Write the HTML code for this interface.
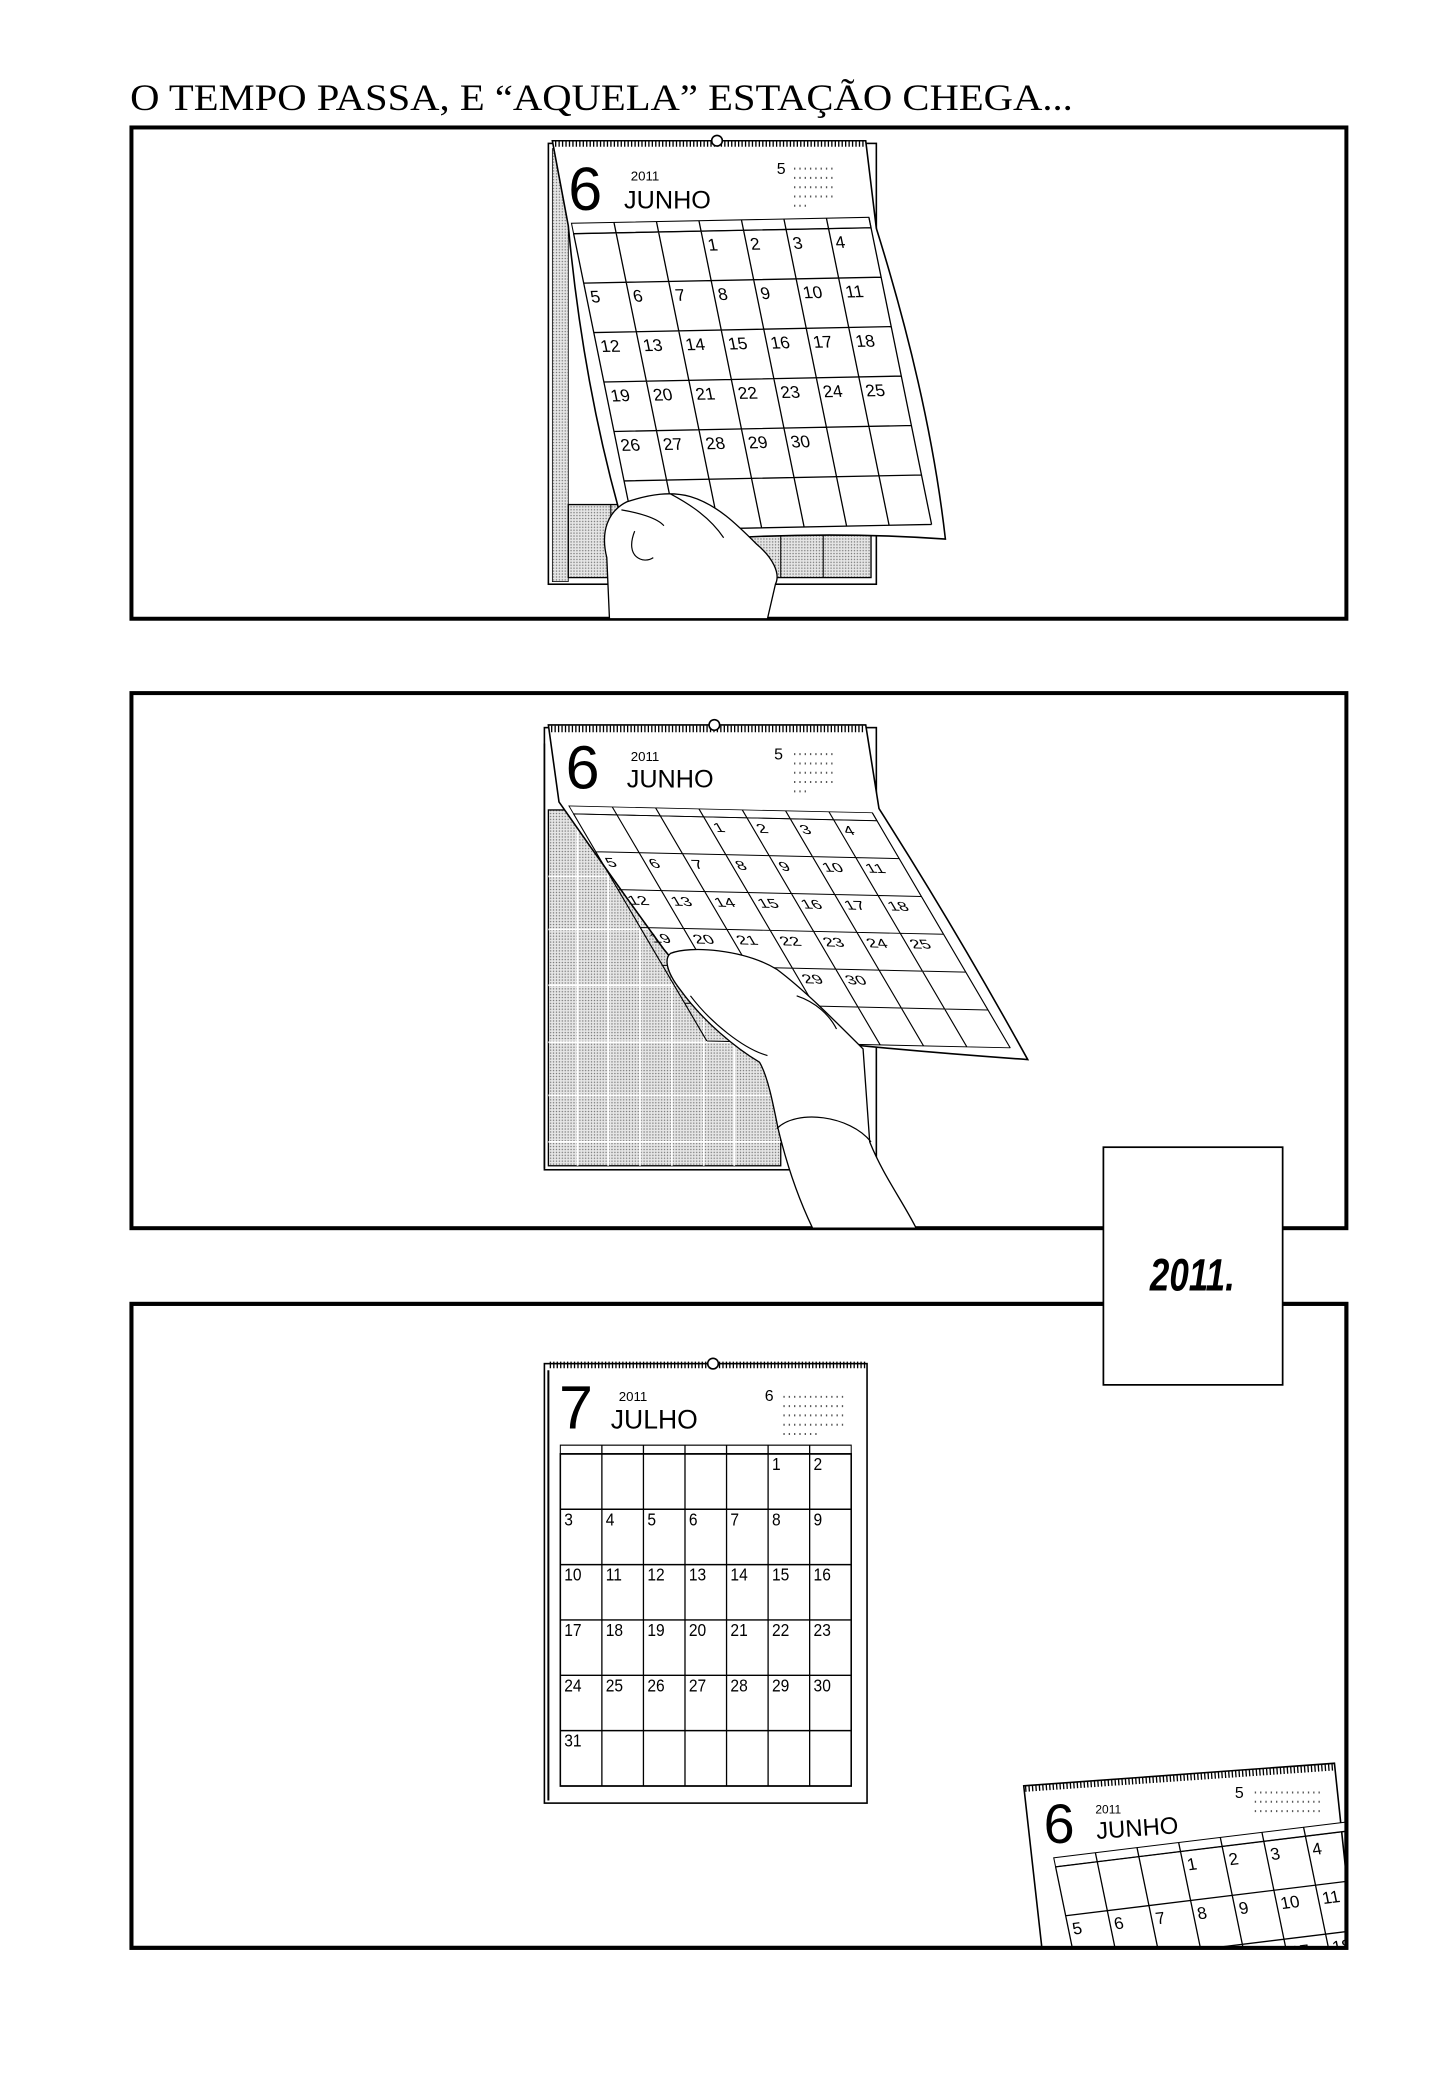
<!DOCTYPE html>
<html><head><meta charset="utf-8"><style>html,body{margin:0;padding:0;background:#fff}svg{display:block}</style></head>
<body>
<svg width="1438" height="2100" viewBox="0 0 1083 1581.6" preserveAspectRatio="none" xmlns="http://www.w3.org/2000/svg" font-family="Liberation Sans, sans-serif">
<defs>
<pattern id="dots" width="2.2" height="2.2" patternUnits="userSpaceOnUse"><rect width="2.2" height="2.2" fill="#e6e6e6"/><circle cx="1.1" cy="1.1" r="0.55" fill="#777"/></pattern>
<clipPath id="p3"><rect x="100" y="983" width="913" height="483"/></clipPath>
</defs>
<rect width="1083" height="1582" fill="#fff"/>
<text x="98" y="83" font-family="Liberation Serif, serif" font-size="28" textLength="710" lengthAdjust="spacingAndGlyphs">O TEMPO PASSA, E “AQUELA” ESTAÇÃO CHEGA...</text>

<!-- PANEL 1 -->
<rect x="99" y="96" width="915" height="370" fill="#fff" stroke="#000" stroke-width="3"/>
<!-- back calendar -->
<rect x="413" y="108" width="247" height="332" fill="#fff" stroke="#000" stroke-width="1.2"/>
<rect x="416" y="112" width="12" height="326" fill="url(#dots)" stroke="#000" stroke-width="0.6"/>
<rect x="428" y="380" width="228" height="55" fill="url(#dots)" stroke="#000" stroke-width="1"/>
<path d="M460,380V435 M490,380V435 M520,380V435 M555,380V435 M588,380V435 M620,380V435" stroke="#000" stroke-width="0.8"/>
<!-- front page -->
<path d="M416,106 L652,106 L660,172 Q700,300 712,406 Q600,398 474,411 Q440,300 428,170 Z" fill="#fff" stroke="#000" stroke-width="1.2"/>
<line x1="418" y1="108" x2="651" y2="108" stroke="#000" stroke-width="5" stroke-dasharray="1 1.6"/>
<circle cx="540" cy="106" r="4" fill="#fff" stroke="#000" stroke-width="1.2"/>
<text x="428" y="158" font-size="46">6</text>
<text x="475" y="136" font-size="10">2011</text>
<text x="470" y="157" font-size="19">JUNHO</text>
<text x="585" y="131" font-size="12">5</text>
<path d="M598,127h30M598,134h30M598,141h30M598,148h30M598,155h10" stroke="#555" stroke-width="1.5" stroke-dasharray="1 3"/>
<g transform="matrix(1,-0.02,0.2,0.98,432,176)">
<rect x="0" y="-8" width="224" height="8" fill="#fff" stroke="#000" stroke-width="0.8"/>
<path d="M0,0V228M32,-8V228M64,-8V228M96,-8V228M128,-8V228M160,-8V228M192,-8V228M224,-8V228M0,0H224M0,38H224M0,76H224M0,114H224M0,152H224M0,190H224M0,228H224" stroke="#000" stroke-width="1" fill="none"/>
<g font-size="13"><text x="99" y="15">1</text><text x="131" y="15">2</text><text x="163" y="15">3</text><text x="195" y="15">4</text>
<text x="3" y="53">5</text><text x="35" y="53">6</text><text x="67" y="53">7</text><text x="99" y="53">8</text><text x="131" y="53">9</text><text x="163" y="53">10</text><text x="195" y="53">11</text>
<text x="3" y="91">12</text><text x="35" y="91">13</text><text x="67" y="91">14</text><text x="99" y="91">15</text><text x="131" y="91">16</text><text x="163" y="91">17</text><text x="195" y="91">18</text>
<text x="3" y="129">19</text><text x="35" y="129">20</text><text x="67" y="129">21</text><text x="99" y="129">22</text><text x="131" y="129">23</text><text x="163" y="129">24</text><text x="195" y="129">25</text>
<text x="3" y="167">26</text><text x="35" y="167">27</text><text x="67" y="167">28</text><text x="99" y="167">29</text><text x="131" y="167">30</text></g>
</g>
<!-- hand 1 -->
<path d="M459,466 L457,420 C452,400 458,385 472,378 C490,372 505,370 520,374 C540,380 555,395 570,410 C582,420 588,432 584,440 L578,466 Z" fill="#fff" stroke="#000" stroke-width="1"/>
<path d="M468,384 C480,386 495,390 500,396 M478,400 C470,420 485,425 492,420 M505,372 C520,380 535,390 545,405" fill="none" stroke="#000" stroke-width="0.9"/>

<!-- PANEL 2 -->
<rect x="99" y="522" width="915" height="403" fill="#fff" stroke="#000" stroke-width="3"/>
<rect x="410" y="548" width="250" height="333" fill="#fff" stroke="#000" stroke-width="1.2"/>
<rect x="413" y="610" width="175" height="268" fill="url(#dots)" stroke="#000" stroke-width="1"/>
<path d="M435,610V878M458,610V878M482,610V878M506,610V878M530,610V878M553,610V878M413,660H588M413,700H588M413,742H588M413,785H588M413,825H588M413,860H588" stroke="#fff" stroke-width="1.3"/>
<path d="M410,560V880" stroke="#000" stroke-width="1.2"/>
<path d="M413,546 L652,546 L662,609 Q720,700 774,798 Q660,790 560,778 Q520,740 500,715 Q460,660 421,604 Z" fill="#fff" stroke="#000" stroke-width="1.2"/>
<line x1="415" y1="549" x2="651" y2="549" stroke="#000" stroke-width="5" stroke-dasharray="1 1.6"/>
<circle cx="538" cy="546" r="4" fill="#fff" stroke="#000" stroke-width="1.2"/>
<text x="426" y="594" font-size="46">6</text>
<text x="475" y="573" font-size="10">2011</text>
<text x="472" y="593" font-size="19">JUNHO</text>
<text x="583" y="572" font-size="12">5</text>
<path d="M598,568h30M598,575h30M598,582h30M598,589h30M598,596h10" stroke="#555" stroke-width="1.5" stroke-dasharray="1 3"/>
<g transform="matrix(1.02,0.023,0.44,0.75,432,613)">
<rect x="0" y="-8" width="224" height="8" fill="#fff" stroke="#000" stroke-width="0.8"/>
<path d="M0,0V228M32,-8V228M64,-8V228M96,-8V228M128,-8V228M160,-8V228M192,-8V228M224,-8V228M0,0H224M0,38H224M0,76H224M0,114H224M0,152H224M0,190H224M0,228H224" stroke="#000" stroke-width="1" fill="none"/>
<g font-size="13"><text x="99" y="15">1</text><text x="131" y="15">2</text><text x="163" y="15">3</text><text x="195" y="15">4</text>
<text x="3" y="53">5</text><text x="35" y="53">6</text><text x="67" y="53">7</text><text x="99" y="53">8</text><text x="131" y="53">9</text><text x="163" y="53">10</text><text x="195" y="53">11</text>
<text x="3" y="91">12</text><text x="35" y="91">13</text><text x="67" y="91">14</text><text x="99" y="91">15</text><text x="131" y="91">16</text><text x="163" y="91">17</text><text x="195" y="91">18</text>
<text x="3" y="129">19</text><text x="35" y="129">20</text><text x="67" y="129">21</text><text x="99" y="129">22</text><text x="131" y="129">23</text><text x="163" y="129">24</text><text x="195" y="129">25</text>
<text x="3" y="167">26</text><text x="35" y="167">27</text><text x="67" y="167">28</text><text x="99" y="167">29</text><text x="131" y="167">30</text></g>
</g>
<!-- hand 2 -->
<path d="M505,718 C520,712 560,715 585,730 C605,745 625,765 650,790 L655,860 C665,885 680,905 690,925 L612,925 C600,900 592,875 586,850 C582,830 578,810 572,800 C555,790 530,770 512,745 C502,732 500,722 505,718 Z" fill="#fff" stroke="#000" stroke-width="1"/>
<path d="M520,750 C535,770 560,790 578,795 M585,850 C600,835 640,840 656,860 M600,750 C615,755 625,765 630,775" fill="none" stroke="#000" stroke-width="0.9"/>

<!-- PANEL 3 -->
<rect x="99" y="982" width="915" height="485" fill="#fff" stroke="#000" stroke-width="3"/>
<rect x="410" y="1027" width="243" height="331" fill="#fff" stroke="#000" stroke-width="1.2"/>
<path d="M413,1032V1356" stroke="#000" stroke-width="1.5"/>
<line x1="414" y1="1028" x2="652" y2="1028" stroke="#000" stroke-width="5" stroke-dasharray="1 1.6"/>
<circle cx="537" cy="1027" r="4" fill="#fff" stroke="#000" stroke-width="1.2"/>
<text x="421" y="1076" font-size="46">7</text>
<text x="466" y="1055" font-size="10">2011</text>
<text x="460" y="1076" font-size="20">JULHO</text>
<text x="576" y="1055" font-size="12">6</text>
<path d="M590,1052h45M590,1059h45M590,1066h45M590,1073h45M590,1080h28" stroke="#555" stroke-width="1.5" stroke-dasharray="1 3"/>
<g transform="matrix(0.978,0,0,1.097,422,1095)">
<rect x="0" y="-6" width="224" height="6" fill="#fff" stroke="#000" stroke-width="0.8"/>
<rect x="0" y="0" width="224" height="228" fill="#fff" stroke="#000" stroke-width="1.2"/>
<path d="M32,-6V228M64,-6V228M96,-6V228M128,-6V228M160,-6V228M192,-6V228M0,38H224M0,76H224M0,114H224M0,152H224M0,190H224" stroke="#000" stroke-width="1" fill="none"/>
<g font-size="12"><text x="163" y="11">1</text><text x="195" y="11">2</text>
<text x="3" y="49">3</text><text x="35" y="49">4</text><text x="67" y="49">5</text><text x="99" y="49">6</text><text x="131" y="49">7</text><text x="163" y="49">8</text><text x="195" y="49">9</text>
<text x="3" y="87">10</text><text x="35" y="87">11</text><text x="67" y="87">12</text><text x="99" y="87">13</text><text x="131" y="87">14</text><text x="163" y="87">15</text><text x="195" y="87">16</text>
<text x="3" y="125">17</text><text x="35" y="125">18</text><text x="67" y="125">19</text><text x="99" y="125">20</text><text x="131" y="125">21</text><text x="163" y="125">22</text><text x="195" y="125">23</text>
<text x="3" y="163">24</text><text x="35" y="163">25</text><text x="67" y="163">26</text><text x="99" y="163">27</text><text x="131" y="163">28</text><text x="163" y="163">29</text><text x="195" y="163">30</text>
<text x="3" y="201">31</text></g>
</g>
<!-- fallen June calendar -->
<g clip-path="url(#p3)">
<path d="M771,1345 L1005,1328 L1020,1470 L785,1470 Z" fill="#fff" stroke="#000" stroke-width="1.2"/>
<line x1="772" y1="1347" x2="1004" y2="1331" stroke="#000" stroke-width="5" stroke-dasharray="1 1.6"/>
<text x="786" y="1388" font-size="42">6</text>
<text x="825" y="1366" font-size="9">2011</text>
<text x="826" y="1385" font-size="18" transform="rotate(-4 826 1385)">JUNHO</text>
<text x="930" y="1354" font-size="12">5</text>
<path d="M945,1350h50M945,1357h50M945,1364h50" stroke="#555" stroke-width="1.5" stroke-dasharray="1 3"/>
<g transform="matrix(0.98,-0.12,0.2,0.97,795,1406)">
<rect x="0" y="-7" width="224" height="7" fill="#fff" stroke="#000" stroke-width="0.8"/>
<path d="M0,0V228M32,-7V228M64,-7V228M96,-7V228M128,-7V228M160,-7V228M192,-7V228M224,-7V228M0,0H224M0,38H224M0,76H224M0,114H224" stroke="#000" stroke-width="1" fill="none"/>
<g font-size="13"><text x="99" y="15">1</text><text x="131" y="15">2</text><text x="163" y="15">3</text><text x="195" y="15">4</text>
<text x="3" y="53">5</text><text x="35" y="53">6</text><text x="67" y="53">7</text><text x="99" y="53">8</text><text x="131" y="53">9</text><text x="163" y="53">10</text><text x="195" y="53">11</text>
<text x="99" y="91">15</text><text x="131" y="91">16</text><text x="163" y="91">17</text><text x="195" y="91">18</text></g>
</g>
</g>
<rect x="99" y="982" width="915" height="485" fill="none" stroke="#000" stroke-width="3"/>

<!-- 2011 caption box -->
<rect x="831" y="864" width="135" height="179" fill="#fff" stroke="#000" stroke-width="1.3"/>
<text x="866" y="972" font-size="34" font-weight="bold" font-style="italic" textLength="64" lengthAdjust="spacingAndGlyphs">2011.</text>
</svg>
</body></html>
